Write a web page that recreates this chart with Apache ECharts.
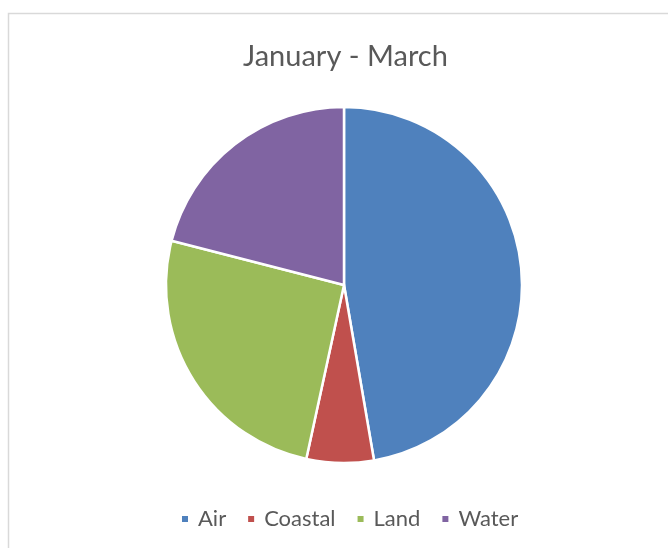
<!DOCTYPE html>
<html><head><meta charset="utf-8">
<script src="https://cdn.jsdelivr.net/npm/echarts@6/dist/echarts.min.js"></script>
<style>html,body{margin:0;padding:0;background:#fff}#c{width:668px;height:548px}</style>
</head><body><div id="c"></div>
<script>
var categories = ['Air', 'Coastal', 'Land', 'Water'];
var values = [47.3, 6.1, 25.6, 21.0];
var colors = ['#4f81bd', '#c0504d', '#9bbb59', '#8064a2'];
var titleText = 'January - March';

var chart = echarts.init(document.getElementById('c'), null, {renderer: 'canvas'});
chart.setOption({
  animation: false,
  backgroundColor: '#fff',
  color: colors,
  title: {
    text: titleText, left: 238, top: 37,
    textStyle: {fontFamily: 'Lato', fontSize: 29, fontWeight: 'normal', color: '#595959'}
  },
  legend: {
    data: categories, left: 175, top: 503, icon: 'rect', itemWidth: 8, itemHeight: 8, itemGap: 20,
    textStyle: {fontFamily: 'Lato', fontSize: 22, color: '#595959', padding: [0, 0, 0, 4]}
  },
  graphic: [{type: 'rect', shape: {x: 8.5, y: 13.5, width: 680, height: 560}, style: {fill: 'none', stroke: '#d9d9d9', lineWidth: 1.5}, silent: true}],
  series: [{
    type: 'pie', center: [344, 285], radius: 178, startAngle: 90, clockwise: true,
    label: {show: false}, labelLine: {show: false},
    itemStyle: {borderColor: '#fff', borderWidth: 2.5},
    data: categories.map(function (c, i) { return {name: c, value: values[i]}; })
  }]
});
</script></body></html>
